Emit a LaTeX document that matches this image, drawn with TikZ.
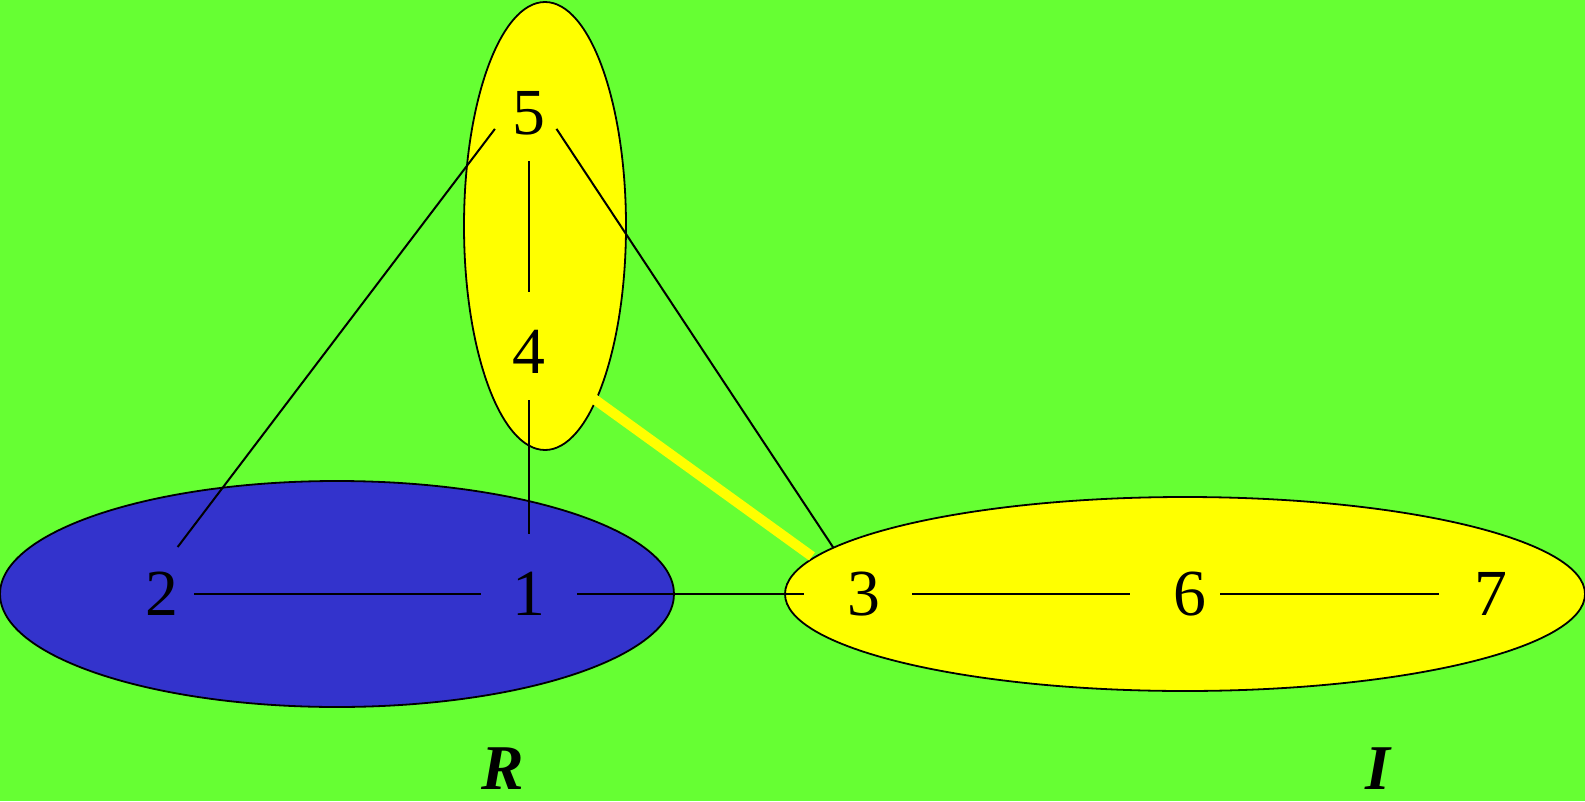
\documentclass[tikz,border=0pt]{standalone}
\usepackage{fontspec}
\setmainfont{Liberation Serif}
\usetikzlibrary{positioning}
\definecolor{lawn}{HTML}{66FF33}
\definecolor{royal}{HTML}{3333CC}
\definecolor{lemon}{HTML}{FFFF00}
\tikzset{
  vertex/.style={circle, minimum size=96bp, inner sep=0pt,
    font=\fontsize{66}{66}\selectfont},
  setlabel/.style={inner sep=0pt, font=\fontsize{64}{64}\selectfont\bfseries\itshape},
  link/.style={line width=2bp, draw=black, shorten >=12bp},
  blob/.style={line width=1.8bp, draw=black}
}
\begin{document}
\begin{tikzpicture}[x=1bp,y=-1bp]
  \useasboundingbox (0,0) rectangle (1585,801);
  \fill[lawn] (0,0) rectangle (1585,801);

  % the three sets
  \draw[blob, fill=royal] (337,594) ellipse [x radius=337, y radius=113];
  \draw[blob, fill=lemon] (1185,594) ellipse [x radius=400, y radius=97];
  \draw[blob, fill=lemon] (545,226) ellipse [x radius=81, y radius=224];

  % vertices
  \node[vertex] (n2) at (162,594) {2};
  \node[vertex] (n1) at (529,594) {1};
  \node[vertex] (n3) at (864,594) {3};
  \node[vertex] (n6) at (1190,594) {6};
  \node[vertex] (n7) at (1491,594) {7};
  \node[vertex] (n4) at (529,352) {4};
  \node[vertex] (n5) at (529,113) {5};

  % edges
  \draw[link, shorten <=-16bp, shorten >=0bp] (n2) -- (n1);
  \draw[link] (n1) -- (n3);
  \draw[link] (n3) -- (n6);
  \draw[link, shorten <=-18bp, shorten >=4bp] (n6) -- (n7);
  \draw[link] (n5) -- (n4);
  \draw[link] (n4) -- (n1);
  \draw[link, shorten <=20bp, shorten >=59bp]
    ([xshift=-22bp]n5.center) -- ([xshift=-20bp]n2.center);
  \draw[link, shorten <=19bp, shorten >=56bp]
    ([xshift=17bp]n5.center) -- (n3.center);
  \draw[line width=10bp, draw=lemon, shorten <=31bp, shorten >=16bp] (n4) -- (n3);

  % set names
  \node[setlabel] (setR) at (503,769) {R};
  \node[setlabel] (setI) at (1378,769) {I};
\end{tikzpicture}
\end{document}
